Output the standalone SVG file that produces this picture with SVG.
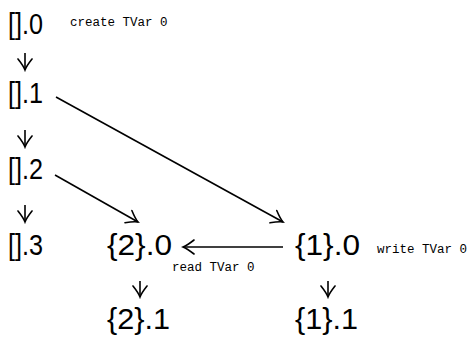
<svg xmlns="http://www.w3.org/2000/svg" width="470" height="337" viewBox="0 0 470 337">
<defs>
<style>
.n{font-family:"Liberation Sans",Arial,sans-serif;font-size:29px;fill:#000}
.l{font-family:"Liberation Mono","Courier New",monospace;font-size:12.5px;fill:#000}
.c{stroke:#000;stroke-width:1.6;fill:none}
</style>
<marker id="ah" viewBox="-12 -8 14 16" markerWidth="14" markerHeight="16" refX="0" refY="0" orient="auto" markerUnits="userSpaceOnUse">
<path d="M-11,-7 Q-4,-1.5 0,0 Q-4,1.5 -11,7" stroke="#000" stroke-width="1.6" fill="none" stroke-linecap="round"/>
</marker>
</defs>
<rect width="470" height="337" fill="#fff"/>
<g id="n00"><text class="n" x="8" y="34" textLength="35" lengthAdjust="spacingAndGlyphs">[].0</text><text class="l" x="70" y="26">create TVar 0</text></g>
<g id="n01"><text class="n" x="8" y="103" textLength="35" lengthAdjust="spacingAndGlyphs">[].1</text></g>
<g id="n02"><text class="n" x="8" y="179" textLength="35" lengthAdjust="spacingAndGlyphs">[].2</text></g>
<g id="n03"><text class="n" x="8" y="255" textLength="35" lengthAdjust="spacingAndGlyphs">[].3</text></g>
<g id="n20"><text class="n" x="107" y="255" textLength="65" lengthAdjust="spacingAndGlyphs">{2}.0</text></g>
<g id="n21"><text class="n" x="107" y="329" textLength="63" lengthAdjust="spacingAndGlyphs">{2}.1</text></g>
<g id="n10"><text class="n" x="295" y="255" textLength="65" lengthAdjust="spacingAndGlyphs">{1}.0</text><text class="l" x="377" y="253">write TVar 0</text></g>
<g id="n11"><text class="n" x="295" y="329" textLength="63" lengthAdjust="spacingAndGlyphs">{1}.1</text></g>
<g id="connectors">
<path class="c" marker-end="url(#ah)" d="M25,53 V70"/>
<path class="c" marker-end="url(#ah)" d="M25,130 V147"/>
<path class="c" marker-end="url(#ah)" d="M25,205 V222"/>
<path class="c" marker-end="url(#ah)" d="M140,281 V297"/>
<path class="c" marker-end="url(#ah)" d="M328,281 V297"/>
<path class="c" marker-end="url(#ah)" d="M56,97 L283,222"/>
<path class="c" marker-end="url(#ah)" d="M55,175 L138,222"/>
<path class="c" marker-end="url(#ah)" d="M283,247 L183,247"/>
<text class="l" x="172" y="271">read TVar 0</text>
</g>
</svg>
